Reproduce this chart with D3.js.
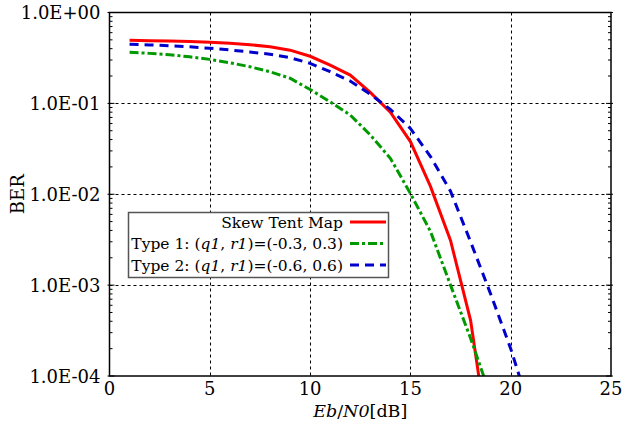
<!DOCTYPE html>
<html>
<head>
<meta charset="utf-8">
<script src="https://cdn.jsdelivr.net/npm/d3@7"></script>
<style>
  body { margin: 0; background: #fff; }
  svg { display: block; }
  text { font-family: "DejaVu Serif", serif; fill: #000; }
</style>
</head>
<body>
<svg id="chart" width="625" height="425"></svg>
<script>
// Eb/N0 [dB] sample points
const ebn0 = [1, 2, 3, 4, 5, 6, 7, 8, 9, 10, 11, 12, 13, 14, 15, 16, 17, 18, 19, 20, 21];

const skewTentBer = [0.494, 0.490, 0.486, 0.479, 0.470, 0.458, 0.442, 0.420, 0.385, 0.330,
  0.264, 0.205, 0.132, 0.080, 0.038, 0.0122, 0.0031, 0.00041, 0.000013];

const type1Ber = [0.365, 0.355, 0.343, 0.325, 0.305, 0.280, 0.253, 0.223, 0.189, 0.142,
  0.104, 0.0745, 0.0449, 0.0249, 0.0102, 0.0039, 0.0010, 0.00026, 0.00006];

const type2Ber = [0.447, 0.440, 0.431, 0.419, 0.404, 0.387, 0.368, 0.347, 0.318, 0.276,
  0.223, 0.176, 0.126, 0.086, 0.053, 0.026, 0.0108, 0.0030, 0.00080, 0.00020, 0.00004];

const xTicks = [0, 5, 10, 15, 20, 25];
const yTicks = [1, 1e-1, 1e-2, 1e-3, 1e-4];
const yTickLabels = ["1.0E+00", "1.0E-01", "1.0E-02", "1.0E-03", "1.0E-04"];

const series = [
  { name: "Skew Tent Map", values: skewTentBer, color: "#ff0000", dash: null },
  { name: "type1", values: type1Ber, color: "#009900", dash: "9,3,3,3" },
  { name: "type2", values: type2Ber, color: "#0000cc", dash: "9,6" }
];

const svg = d3.select("#chart");
const pLeft = 109.5, pRight = 611, pTop = 12.5, pBottom = 376;

const x = d3.scaleLinear().domain([0, 25]).range([pLeft, pRight]);
const y = d3.scaleLog().domain([1e-4, 1]).range([pBottom, pTop]);

svg.append("defs").append("clipPath").attr("id", "plotClip")
  .append("rect")
  .attr("x", pLeft).attr("y", pTop)
  .attr("width", pRight - pLeft).attr("height", pBottom - pTop);

// grid
const grid = svg.append("g")
  .attr("stroke", "#000")
  .attr("stroke-width", 1)
  .attr("stroke-dasharray", "3,3");

grid.append("g").selectAll("line")
  .data(xTicks.slice(1, -1))
  .join("line")
  .attr("x1", (d) => Math.round(x(d)) + 0.5)
  .attr("x2", (d) => Math.round(x(d)) + 0.5)
  .attr("y1", pTop).attr("y2", pBottom);

grid.append("g").selectAll("line")
  .data(yTicks.slice(1, -1))
  .join("line")
  .attr("y1", (d) => Math.round(y(d)) + 0.5)
  .attr("y2", (d) => Math.round(y(d)) + 0.5)
  .attr("x1", pLeft).attr("x2", pRight);

// minor log ticks on left and right edges
const minor = [];
for (let e = -4; e < 0; e++) {
  for (let m = 2; m <= 9; m++) minor.push(m * Math.pow(10, e));
}
const tickG = svg.append("g").attr("stroke", "#000").attr("stroke-width", 1);
[pLeft, pRight].forEach((edge, i) => {
  const dir = i === 0 ? 1 : -1;
  tickG.append("g").selectAll("line")
    .data(minor)
    .join("line")
    .attr("x1", edge).attr("x2", edge + dir * 3)
    .attr("y1", (d) => y(d)).attr("y2", (d) => y(d));
  tickG.append("g").selectAll("line")
    .data(yTicks)
    .join("line")
    .attr("x1", edge - dir * 2).attr("x2", edge + dir * 5)
    .attr("y1", (d) => y(d)).attr("y2", (d) => y(d));
});

// curves
const line = d3.line()
  .x((d) => x(d[0]))
  .y((d) => y(d[1]));

svg.append("g")
  .attr("clip-path", "url(#plotClip)")
  .selectAll("path")
  .data(series)
  .join("path")
  .attr("d", (s) => line(s.values.map((v, i) => [ebn0[i], v])))
  .attr("fill", "none")
  .attr("stroke", (s) => s.color)
  .attr("stroke-width", 3)
  .attr("stroke-dasharray", (s) => s.dash);

// frame
svg.append("rect")
  .attr("x", pLeft).attr("y", pTop)
  .attr("width", pRight - pLeft).attr("height", pBottom - pTop)
  .attr("fill", "none")
  .attr("stroke", "#000")
  .attr("stroke-width", 1.5);

// tick labels
svg.append("g").selectAll("text")
  .data(xTicks)
  .join("text")
  .attr("x", (d) => x(d))
  .attr("y", pBottom + 19)
  .attr("text-anchor", "middle")
  .attr("font-size", 18)
  .text((d) => d);

svg.append("g").selectAll("text")
  .data(yTicks)
  .join("text")
  .attr("x", pLeft - 9)
  .attr("y", (d) => y(d) + 6.5)
  .attr("text-anchor", "end")
  .attr("font-size", 18)
  .text((d, i) => yTickLabels[i]);

// axis titles
const xt = svg.append("text")
  .attr("x", (pLeft + pRight) / 2)
  .attr("y", 417)
  .attr("text-anchor", "middle")
  .attr("font-size", 17.5);
xt.append("tspan").attr("font-style", "italic").text("Eb");
xt.append("tspan").text("/");
xt.append("tspan").attr("font-style", "italic").text("N0");
xt.append("tspan").text("[dB]");

svg.append("text")
  .attr("transform", `translate(24,${(pTop + pBottom) / 2}) rotate(-90)`)
  .attr("text-anchor", "middle")
  .attr("font-size", 18)
  .text("BER");

// legend
const lg = svg.append("g");
lg.append("rect")
  .attr("x", 128.5).attr("y", 212.5)
  .attr("width", 260).attr("height", 65)
  .attr("fill", "#fff")
  .attr("stroke", "#555")
  .attr("stroke-width", 1.5);

const rows = lg.selectAll("g")
  .data(series)
  .join("g")
  .attr("transform", (d, i) => `translate(0,${222 + i * 21.5})`);

rows.append("line")
  .attr("x1", 350).attr("x2", 386)
  .attr("y1", 0).attr("y2", 0)
  .attr("stroke", (s) => s.color)
  .attr("stroke-width", 3)
  .attr("stroke-dasharray", (s) => s.dash);

rows.each(function (s, i) {
  const t = d3.select(this).append("text")
    .attr("x", 343)
    .attr("y", 5.5)
    .attr("text-anchor", "end")
    .attr("font-size", 15.5);
  if (i === 0) {
    t.text(s.name);
    return;
  }
  const vals = i === 1 ? "(-0.3, 0.3)" : "(-0.6, 0.6)";
  t.append("tspan").text(`Type ${i}: (`);
  t.append("tspan").attr("font-style", "italic").text("q1");
  t.append("tspan").text(", ");
  t.append("tspan").attr("font-style", "italic").text("r1");
  t.append("tspan").text(")=" + vals);
});
</script>
</body>
</html>
